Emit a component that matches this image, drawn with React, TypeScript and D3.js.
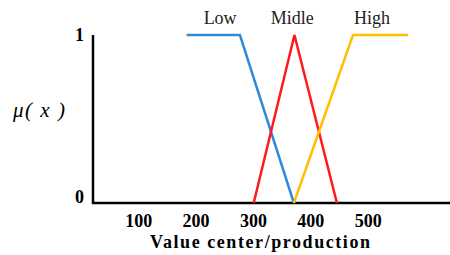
import * as d3 from "d3";
import { useEffect, useRef } from "react";

// membership functions, [value, mu]
const lowPts: [number, number][] = [[180, 1], [273, 1], [367, 0]];
const midPts: [number, number][] = [[297, 0], [368, 1], [442, 0]];
const highPts: [number, number][] = [[367, 0], [470, 1], [566, 1]];

const seriesNames = ["Low", "Midle", "High"];
const seriesColors = ["#2f8ad8", "#ff1a1a", "#ffc000"];
const xTicks = [100, 200, 300, 400, 500];
const yTicks = [0, 1];

const W = 450;
const H = 255;

const App = () => {
    const ref = useRef<SVGSVGElement>(null);

    useEffect(() => {
        const svg = d3.select(ref.current);
        svg.selectAll("*").remove();

        const x = d3.scaleLinear().domain([17, 639]).range([93, 450]);
        const y = d3.scaleLinear().domain([0, 1]).range([203, 35]);

        const font = "Liberation Serif";

        // axes
        svg.append("line")
            .attr("x1", x(17)).attr("x2", x(17))
            .attr("y1", y(1)).attr("y2", y(0) + 1)
            .attr("stroke", "#000").attr("stroke-width", 2.5);
        svg.append("line")
            .attr("x1", x(17) - 1).attr("x2", x(639))
            .attr("y1", y(0)).attr("y2", y(0))
            .attr("stroke", "#000").attr("stroke-width", 2.5);

        svg.selectAll(".ytick")
            .data(yTicks)
            .enter()
            .append("text")
            .attr("x", 84)
            .attr("y", d => y(d) + (d === 1 ? 6 : 0))
            .attr("text-anchor", "end")
            .attr("font-family", font)
            .attr("font-weight", "bold")
            .attr("font-size", 18)
            .text(d => d);

        svg.selectAll(".xtick")
            .data(xTicks)
            .enter()
            .append("text")
            .attr("x", d => x(d) - 2)
            .attr("y", 227)
            .attr("text-anchor", "middle")
            .attr("font-family", font)
            .attr("font-weight", "bold")
            .attr("font-size", 18)
            .text(d => d);

        svg.append("text")
            .attr("x", 150)
            .attr("y", 248)
            .attr("textLength", 220)
            .attr("lengthAdjust", "spacing")
            .attr("font-family", font)
            .attr("font-weight", "bold")
            .attr("font-size", 18)
            .text("Value center/production");

        svg.append("text")
            .attr("x", 13)
            .attr("y", 117)
            .attr("textLength", 52)
            .attr("lengthAdjust", "spacing")
            .attr("font-family", font)
            .attr("font-style", "italic")
            .attr("font-size", 21)
            .text("μ( x )");

        const line = d3.line<[number, number]>()
            .x(d => x(d[0]))
            .y(d => y(d[1]));

        [lowPts, midPts, highPts].forEach((pts, i) => {
            svg.append("path")
                .attr("d", line(pts))
                .attr("fill", "none")
                .attr("stroke", seriesColors[i])
                .attr("stroke-width", 2.5)
                .attr("stroke-linejoin", "miter");
        });

        // labels above the curves
        const labelX = [
            (lowPts[0][0] + lowPts[1][0]) / 2 + 12,
            midPts[1][0] - 4,
            highPts[1][0] + 33,
        ];
        svg.selectAll(".lbl")
            .data(seriesNames)
            .enter()
            .append("text")
            .attr("x", (d, i) => x(labelX[i]))
            .attr("y", 24)
            .attr("text-anchor", "middle")
            .attr("font-family", font)
            .attr("font-size", 18)
            .attr("fill", "#222")
            .text(d => d);
    }, []);

    return (
        <div style={{ position: "fixed", left: 0, top: 0, width: W, height: H, background: "#fff" }}>
            <svg ref={ref} width={W} height={H} />
        </div>
    );
};

export default App;
